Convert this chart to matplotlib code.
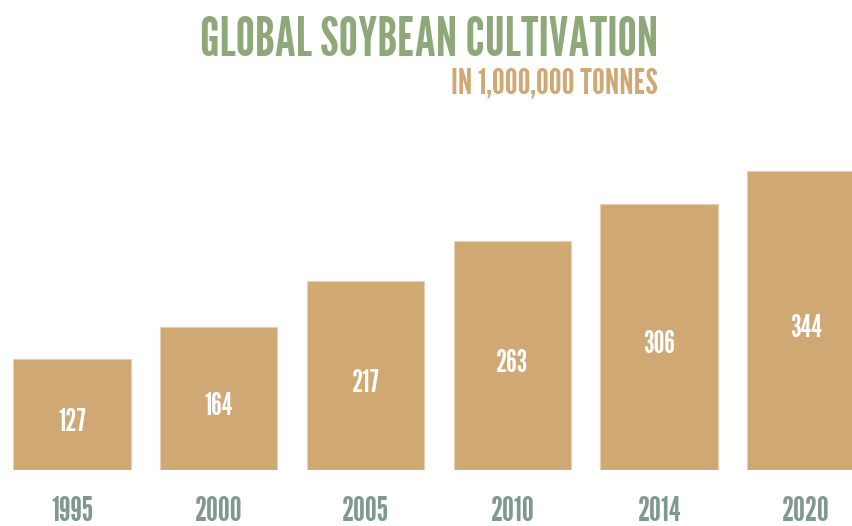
import matplotlib
matplotlib.use("Agg")
import matplotlib.pyplot as plt
import numpy as np

years = ["1995", "2000", "2005", "2010", "2014", "2020"]
values = [127, 164, 217, 263, 306, 344]

bar_color = "#cfa874"
title_color = "#8fa87a"
year_color = "#7f9a8c"
font = "League Gothic"

fig = plt.figure(figsize=(8.53, 5.26), dpi=100)
ax = fig.add_axes([0, 56 / 526, 1, 470 / 526])

x = np.arange(len(years))
bars = ax.bar(x, values, width=0.8, color=bar_color, edgecolor="#e8cfae", linewidth=0.8)
ax.set_xlim(-0.49, 5.32)
ax.set_ylim(0, 540)

# value labels sit a little below the middle of each bar
for xi, v in zip(x, values):
    ax.text(xi, v / 2 - 9, str(v), ha="center", va="center", color="white",
            fontsize=22, family=font)

ax.set_xticks(x)
ax.set_xticklabels(years, fontsize=24, family=font, color=year_color)
ax.tick_params(axis="x", length=0, pad=19)
ax.set_yticks([])
for s in ax.spines.values():
    s.set_visible(False)

fig.text(658 / 853, 1 - 16 / 526, "GLOBAL SOYBEAN CULTIVATION", ha="right", va="top",
         fontsize=39, family=font, color=title_color)
fig.text(658 / 853, 1 - 67 / 526, "IN 1,000,000 TONNES", ha="right", va="top",
         fontsize=26, family=font, color=bar_color)

fig.savefig("out.png", dpi=100)
